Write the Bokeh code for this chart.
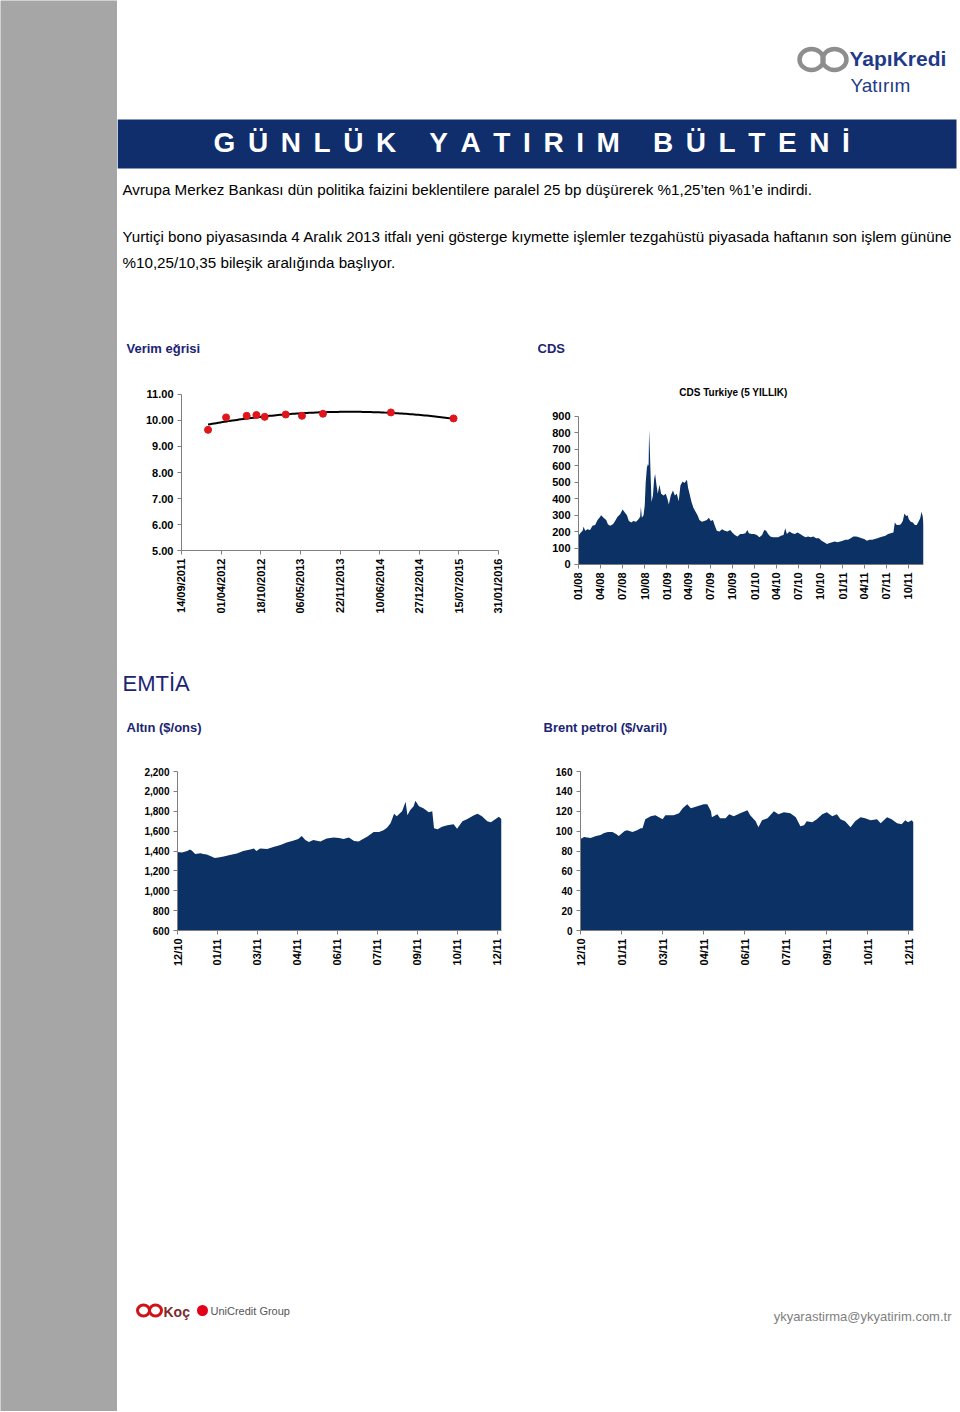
import math
import numpy as np
import pandas as pd
from bokeh.plotting import figure
from bokeh.layouts import row, column
from bokeh.models import (Range1d, FixedTicker, DatetimeTickFormatter,
                          NumeralTickFormatter, Label)
from bokeh.core.properties import value
from bokeh.embed import file_html
from bokeh.resources import INLINE

# ---------------- data ----------------
yield_dates = ["2012-01-26", "2012-04-26", "2012-08-08", "2012-09-26", "2012-11-07",
               "2013-02-21", "2013-05-14", "2013-08-28", "2014-08-06", "2015-06-18"]
yield_values = [9.64, 10.12, 10.18, 10.21, 10.14, 10.23, 10.18, 10.26, 10.31, 10.08]
yield_ticks = ["2011-09-14", "2012-04-01", "2012-10-18", "2013-05-06", "2013-11-22",
               "2014-06-10", "2014-12-27", "2015-07-15", "2016-01-31"]
yield_ylim = [5, 11]

cds_dates = [
    "2008-01-01", "2008-01-08", "2008-01-18", "2008-01-22", "2008-01-29", "2008-02-07",
    "2008-02-18", "2008-02-28", "2008-03-10", "2008-03-20", "2008-03-28", "2008-04-04",
    "2008-04-14", "2008-04-25", "2008-05-02", "2008-05-11", "2008-05-23", "2008-06-01",
    "2008-06-11", "2008-06-22", "2008-07-02", "2008-07-09", "2008-07-20", "2008-07-28",
    "2008-08-07", "2008-08-16", "2008-08-27", "2008-09-06", "2008-09-13", "2008-09-16",
    "2008-09-20", "2008-09-27", "2008-10-02", "2008-10-06", "2008-10-11", "2008-10-15",
    "2008-10-18", "2008-10-20", "2008-10-23", "2008-10-26", "2008-10-30", "2008-11-05",
    "2008-11-10", "2008-11-14", "2008-11-20", "2008-11-25", "2008-12-02", "2008-12-09",
    "2008-12-19", "2008-12-28", "2009-01-04", "2009-01-10", "2009-01-18", "2009-01-27",
    "2009-02-04", "2009-02-12", "2009-02-20", "2009-02-27", "2009-03-08", "2009-03-16",
    "2009-03-26", "2009-03-31", "2009-04-06", "2009-04-14", "2009-04-22", "2009-05-01",
    "2009-05-09", "2009-05-17", "2009-05-27", "2009-06-06", "2009-06-17", "2009-06-25",
    "2009-07-03", "2009-07-12", "2009-07-20", "2009-07-28", "2009-08-08", "2009-08-19",
    "2009-08-30", "2009-09-10", "2009-09-22", "2009-09-30", "2009-10-11", "2009-10-22",
    "2009-11-02", "2009-11-13", "2009-11-24", "2009-12-02", "2009-12-08", "2009-12-19",
    "2009-12-30", "2010-01-10", "2010-01-21", "2010-02-01", "2010-02-10", "2010-02-18",
    "2010-02-26", "2010-03-07", "2010-03-18", "2010-03-29", "2010-04-09", "2010-04-20",
    "2010-05-01", "2010-05-08", "2010-05-15", "2010-05-26", "2010-06-06", "2010-06-17",
    "2010-06-28", "2010-07-09", "2010-07-20", "2010-07-31", "2010-08-11", "2010-08-22",
    "2010-09-02", "2010-09-13", "2010-09-25", "2010-10-06", "2010-10-17", "2010-10-28",
    "2010-11-08", "2010-11-19", "2010-11-30", "2010-12-11", "2010-12-22", "2011-01-02",
    "2011-01-13", "2011-01-24", "2011-02-04", "2011-02-15", "2011-02-27", "2011-03-10",
    "2011-03-21", "2011-04-01", "2011-04-12", "2011-04-23", "2011-05-04", "2011-05-15",
    "2011-05-26", "2011-06-06", "2011-06-17", "2011-06-28", "2011-07-09", "2011-07-20",
    "2011-07-31", "2011-08-06", "2011-08-14", "2011-08-23", "2011-08-31", "2011-09-08",
    "2011-09-15", "2011-09-22", "2011-09-28", "2011-10-03", "2011-10-11", "2011-10-20",
    "2011-10-28", "2011-11-05", "2011-11-12", "2011-11-19", "2011-11-25", "2011-11-30",
    "2011-12-03"]
cds_values = [
    175, 190, 205, 230, 205, 215,
    210, 235, 240, 270, 285, 300,
    285, 270, 245, 235, 245, 265,
    290, 305, 335, 320, 300, 265,
    255, 265, 260, 275, 290, 350,
    285, 300, 360, 500, 590, 610,
    600, 820, 700, 560, 380, 420,
    520, 550, 480, 430, 485, 430,
    420, 430, 400, 365, 420, 450,
    420, 430, 385, 480, 505, 495,
    515, 465, 430, 380, 345, 320,
    300, 270, 260, 265, 270, 285,
    265, 270, 235, 205, 200, 215,
    205, 200, 210, 195, 180, 170,
    185, 185, 190, 210, 190, 185,
    185, 180, 165, 180, 210, 205,
    185, 170, 165, 165, 165, 175,
    180, 220, 185, 200, 190, 185,
    195, 185, 175, 165, 170, 165,
    170, 160, 160, 145, 135, 125,
    130, 135, 140, 135, 140, 145,
    150, 150, 160, 170, 170, 165,
    160, 155, 145, 150, 150, 155,
    160, 165, 170, 175, 185, 190,
    195, 255, 240, 240, 245, 265,
    310, 295, 300, 275, 260, 255,
    240, 240, 260, 280, 320, 290,
    245]
cds_ticks = ["2008-01-01", "2008-04-01", "2008-07-01", "2008-10-01", "2009-01-01",
             "2009-04-01", "2009-07-01", "2009-10-01", "2010-01-01", "2010-04-01",
             "2010-07-01", "2010-10-01", "2011-01-01", "2011-04-01", "2011-07-01",
             "2011-10-01"]
cds_ylim = [0, 900]

gold_dates = [
    "2010-12-08", "2010-12-13", "2010-12-19", "2010-12-22", "2010-12-24", "2010-12-28",
    "2011-01-03", "2011-01-06", "2011-01-10", "2011-01-14", "2011-01-19", "2011-01-23",
    "2011-01-29", "2011-02-05", "2011-02-13", "2011-02-20", "2011-02-28", "2011-03-04",
    "2011-03-07", "2011-03-11", "2011-03-19", "2011-03-26", "2011-04-03", "2011-04-10",
    "2011-04-18", "2011-04-23", "2011-04-27", "2011-05-01", "2011-05-05", "2011-05-10",
    "2011-05-18", "2011-05-25", "2011-06-02", "2011-06-08", "2011-06-13", "2011-06-19",
    "2011-06-25", "2011-06-30", "2011-07-10", "2011-07-17", "2011-07-23", "2011-07-28",
    "2011-08-01", "2011-08-05", "2011-08-09", "2011-08-12", "2011-08-18", "2011-08-22",
    "2011-08-24", "2011-08-27", "2011-08-31", "2011-09-02", "2011-09-06", "2011-09-11",
    "2011-09-17", "2011-09-21", "2011-09-23", "2011-09-27", "2011-10-02", "2011-10-08",
    "2011-10-15", "2011-10-19", "2011-10-25", "2011-10-30", "2011-11-07", "2011-11-11",
    "2011-11-16", "2011-11-22", "2011-11-26", "2011-12-01", "2011-12-05", "2011-12-08"]
gold_values = [
    1390, 1385, 1400, 1415, 1405, 1370,
    1378, 1370, 1365, 1350, 1330, 1335,
    1345, 1360, 1375, 1400, 1415, 1425,
    1400, 1425, 1420, 1440, 1460, 1485,
    1505, 1520, 1550, 1510, 1490, 1510,
    1495, 1525, 1535, 1530, 1520, 1535,
    1500, 1495, 1545, 1590, 1590, 1610,
    1635, 1680, 1775, 1750, 1800, 1895,
    1760, 1810, 1850, 1905, 1850, 1830,
    1790, 1800, 1630, 1620, 1645, 1660,
    1670, 1625, 1700, 1720, 1760, 1775,
    1750, 1700, 1690, 1720, 1745, 1720]

brent_dates = [
    "2010-12-08", "2010-12-12", "2010-12-19", "2010-12-25", "2010-12-30", "2011-01-03",
    "2011-01-07", "2011-01-12", "2011-01-16", "2011-01-19", "2011-01-25", "2011-01-28",
    "2011-02-03", "2011-02-08", "2011-02-12", "2011-02-14", "2011-02-17", "2011-02-23",
    "2011-02-28", "2011-03-08", "2011-03-11", "2011-03-20", "2011-03-26", "2011-03-30",
    "2011-04-04", "2011-04-08", "2011-04-15", "2011-04-22", "2011-04-26", "2011-04-30",
    "2011-05-01", "2011-05-07", "2011-05-10", "2011-05-16", "2011-05-20", "2011-05-25",
    "2011-06-01", "2011-06-09", "2011-06-12", "2011-06-18", "2011-06-21", "2011-06-25",
    "2011-07-01", "2011-07-08", "2011-07-13", "2011-07-19", "2011-07-26", "2011-08-01",
    "2011-08-06", "2011-08-10", "2011-08-13", "2011-08-19", "2011-08-24", "2011-08-30",
    "2011-09-04", "2011-09-10", "2011-09-15", "2011-09-19", "2011-09-24", "2011-09-30",
    "2011-10-05", "2011-10-11", "2011-10-16", "2011-10-22", "2011-10-29", "2011-11-02",
    "2011-11-09", "2011-11-14", "2011-11-20", "2011-11-25", "2011-11-29", "2011-12-02",
    "2011-12-06", "2011-12-08"]
brent_values = [
    92, 94, 93, 95, 96, 98,
    99, 99, 97, 95, 100, 101,
    99, 101, 103, 103, 112, 115,
    116, 112, 116, 116, 118, 123,
    127, 123, 125, 127, 127, 120,
    114, 117, 113, 113, 117, 115,
    118, 121, 116, 110, 104, 111,
    113, 120, 117, 119, 118, 114,
    105, 106, 110, 109, 112, 117,
    119, 115, 117, 112, 110, 104,
    110, 114, 113, 111, 112, 108,
    114, 112, 108, 107, 111, 109,
    111, 109]

commodity_ticks = ["2010-12-08", "2011-01-22", "2011-03-08", "2011-04-22", "2011-06-06",
                   "2011-07-21", "2011-09-04", "2011-10-19", "2011-12-03"]
gold_ylim = [600, 2200]
brent_ylim = [0, 160]

title_text = "GÜNLÜK YATIRIM BÜLTENİ"
para1 = "Avrupa Merkez Bankası dün politika faizini beklentilere paralel 25 bp düşürerek %1,25’ten %1’e indirdi."
para2a = "Yurtiçi bono piyasasında 4 Aralık 2013 itfalı yeni gösterge kıymette işlemler tezgahüstü piyasada haftanın son işlem gününe"
para2b = "%10,25/10,35 bileşik aralığında başlıyor."

# ---------------- styles ----------------
FONT = "Liberation Sans"
NAVY = "#0b3165"
BAR = "#0f2e6b"
HEAD = "#1b2473"
LOGO = "#1f3b87"
GRAY_STRIP = "#a6a6a6"
W = 959          # total page width used
RIGHT_W = W - 117
DAY_MS = 86400000.0


def ms(d):
    return pd.Timestamp(d).value / 1e6


def blank(w, h, x0, x1, y0, y1, bg="white"):
    p = figure(width=w, height=h, x_range=Range1d(x0, x1), y_range=Range1d(y1, y0),
               output_backend="svg", toolbar_location=None,
               x_axis_location=None, y_axis_location=None, min_border=0)
    p.grid.visible = False
    p.outline_line_color = None
    p.background_fill_color = bg
    p.border_fill_color = bg
    return p


def txt(p, x, y, s, size, color="black", bold=False, align="left", font=FONT):
    p.text(x=[x], y=[y], text=[s], text_font=value(font), text_font_size=f"{size}px",
           text_color=color, text_font_style="bold" if bold else "normal",
           text_align=align, text_baseline="middle")


def style(p, xsize, ysize, fmt):
    for ax in p.axis:
        ax.major_label_text_font = FONT
        ax.major_label_text_font_style = "bold"
        ax.major_label_text_color = "black"
        ax.axis_line_color = "#7f7f7f"
        ax.major_tick_line_color = "#7f7f7f"
        ax.major_tick_out = 4
        ax.major_tick_in = 0
        ax.minor_tick_line_color = None
        ax.major_label_standoff = 4
    p.xaxis.major_label_text_font_size = xsize
    p.yaxis.major_label_text_font_size = ysize
    p.xaxis.major_label_orientation = math.pi / 2
    p.xaxis.formatter = DatetimeTickFormatter(
        milliseconds=fmt, seconds=fmt, minsec=fmt, minutes=fmt, hourmin=fmt,
        hours=fmt, days=fmt, months=fmt, years=fmt)
    p.grid.visible = False
    p.outline_line_color = None
    p.background_fill_color = "white"
    p.border_fill_color = "white"


def padded(t0, t1, px_data, pad_left_px, pad_right_px):
    """x range (ms) whose data part t0..t1 spans px_data pixels, padded on both sides."""
    mpp = (ms(t1) - ms(t0)) / px_data
    return Range1d(ms(t0) - pad_left_px * mpp, ms(t1) + pad_right_px * mpp)


# ---------------- gray strip ----------------
strip = blank(117, 1411, 0, 117, 0, 1411, bg=GRAY_STRIP)

# ---------------- header (page y 0..372) ----------------
hdr = blank(RIGHT_W, 372, 117, W, 0, 372)
hdr.ellipse(x=[811, 834], y=[59, 59], width=[24, 24], height=[21, 21],
            fill_color=None, line_color="#8e8e8e", line_width=4.5)
txt(hdr, 849, 58, "YapıKredi", 21, LOGO, bold=True)
txt(hdr, 850, 85, "Yatırım", 19, LOGO)
hdr.quad(left=[117], right=[956], top=[119], bottom=[168], fill_color=BAR, line_color=None)
em = {"G": .778, "Ü": .722, "N": .722, "L": .611, "K": .722, "Y": .667, "A": .722,
      "T": .611, "I": .278, "R": .722, "M": .833, "B": .722, "E": .667, "İ": .278, " ": .278}
fs, sp = 28, 12.6
xs, chars = [], []
x = 213.0
for ch in title_text:
    if ch != " ":
        xs.append(x)
        chars.append(ch)
    x += em[ch] * fs + sp
hdr.text(x=xs, y=[142] * len(xs), text=chars, text_font=value(FONT), text_font_size=f"{fs}px",
         text_font_style="bold", text_color="white", text_align="left", text_baseline="middle")
txt(hdr, 122, 189, para1, 15.2)
txt(hdr, 122, 236, para2a, 15.2)
txt(hdr, 122, 262, para2b, 15.2)
txt(hdr, 126, 348, "Verim eğrisi", 13, HEAD, bold=True)
txt(hdr, 537, 348, "CDS", 13, HEAD, bold=True)

# ---------------- row 1 (page y 372..640); both frames span y 384..635 ----------------
# axes are pinned at data values so each chart keeps its own geometry inside the shared frame
yd = pd.to_datetime(yield_dates)
yc = figure(width=413, height=268, x_axis_type="datetime",
            x_range=padded(yield_ticks[0], yield_ticks[-1], 317, 45, 10),
            y_range=Range1d(1.7308, 11.3846), output_backend="svg", toolbar_location=None,
            min_border_left=19, min_border_right=22, min_border_top=12, min_border_bottom=5)
days = (yd - pd.Timestamp("2011-09-14")).days.values.astype(float)
coef = np.polyfit(days, np.array(yield_values), 2)
tdays = np.linspace(days.min(), days.max(), 120)
tx = pd.Timestamp("2011-09-14") + pd.to_timedelta(tdays, unit="D")
yc.line(x=tx, y=np.polyval(coef, tdays), line_color="black", line_width=2)
yc.scatter(x=yd, y=yield_values, size=7, fill_color="#e0161b", line_color="#e0161b")
style(yc, "11px", "11px", "%d/%m/%Y")
yc.xaxis.ticker = FixedTicker(ticks=[ms(t) for t in yield_ticks])
yc.xaxis.fixed_location = yield_ylim[0]
yc.xaxis.bounds = (ms(yield_ticks[0]), ms(yield_ticks[-1]))
yc.yaxis.ticker = FixedTicker(ticks=list(range(yield_ylim[0], yield_ylim[1] + 1)))
yc.yaxis.fixed_location = ms(yield_ticks[0])
yc.yaxis.bounds = (yield_ylim[0], yield_ylim[1])
yc.yaxis.formatter = NumeralTickFormatter(format="0.00")

cd = pd.to_datetime(cds_dates)
cds = figure(width=429, height=268, x_axis_type="datetime",
             x_range=padded(cds_dates[0], cds_dates[-1], 345, 38, 0),
             y_range=Range1d(-431.8, 1094.6), output_backend="svg", toolbar_location=None,
             min_border_left=10, min_border_right=36, min_border_top=12, min_border_bottom=5)
cds.varea(x=cd, y1=0, y2=cds_values, fill_color=NAVY)
style(cds, "11px", "11px", "%m/%y")
cds.xaxis.ticker = FixedTicker(ticks=[ms(t) for t in cds_ticks])
cds.xaxis.fixed_location = cds_ylim[0]
cds.xaxis.bounds = (ms(cds_dates[0]), ms(cds_dates[-1]))
cds.yaxis.ticker = FixedTicker(ticks=list(range(0, 901, 100)))
cds.yaxis.fixed_location = ms(cds_dates[0])
cds.yaxis.bounds = (cds_ylim[0], cds_ylim[1])
cds.add_layout(Label(x=ms("2009-10-05"), y=1046, text="CDS Turkiye (5 YILLIK)",
                     text_align="center", text_baseline="middle", text_font=FONT,
                     text_font_size="10px", text_font_style="bold", text_color="black"))

# ---------------- middle labels (page y 640..755) ----------------
mid = blank(RIGHT_W, 115, 117, W, 640, 755)
txt(mid, 122, 683, "EMTİA", 22, HEAD)
txt(mid, 126, 727, "Altın ($/ons)", 13, HEAD, bold=True)
txt(mid, 543, 727, "Brent petrol ($/varil)", 13, HEAD, bold=True)

# ---------------- row 2 (page y 755..985) ----------------
gd = pd.to_datetime(gold_dates)
gold = figure(width=413, height=230, x_axis_type="datetime",
              x_range=Range1d(ms(gold_dates[0]), ms(gold_dates[-1])),
              y_range=Range1d(*gold_ylim), output_backend="svg", toolbar_location=None,
              min_border_left=60, min_border_right=29, min_border_top=16, min_border_bottom=55)
gold.varea(x=gd, y1=gold_ylim[0], y2=gold_values, fill_color=NAVY)
style(gold, "11px", "10px", "%m/%y")
gold.xaxis.ticker = FixedTicker(ticks=[ms(t) for t in commodity_ticks])
gold.yaxis.ticker = FixedTicker(ticks=list(range(600, 2201, 200)))
gold.yaxis.formatter = NumeralTickFormatter(format="0,0")

bd = pd.to_datetime(brent_dates)
brent = figure(width=429, height=230, x_axis_type="datetime",
               x_range=Range1d(ms(brent_dates[0]), ms(brent_dates[-1])),
               y_range=Range1d(*brent_ylim), output_backend="svg", toolbar_location=None,
               min_border_left=50, min_border_right=46, min_border_top=16, min_border_bottom=55)
brent.varea(x=bd, y1=0, y2=brent_values, fill_color=NAVY)
style(brent, "11px", "10px", "%m/%y")
brent.xaxis.ticker = FixedTicker(ticks=[ms(t) for t in commodity_ticks])
brent.yaxis.ticker = FixedTicker(ticks=list(range(0, 161, 20)))

# ---------------- footer (page y 985..1411) ----------------
foot = blank(RIGHT_W, 426, 117, W, 985, 1411)
foot.ellipse(x=[143, 155], y=[1310, 1310], width=[12, 12], height=[11, 11],
             fill_color=None, line_color="#d0121b", line_width=3)
txt(foot, 163, 1311, "Koç", 14, "#7b2b2b", bold=True)
foot.circle(x=[202], y=[1310], radius=5.5, fill_color="#e2001a", line_color=None)
txt(foot, 210, 1310, "UniCredit Group", 11, "#555555")
txt(foot, 951, 1316, "ykyarastirma@ykyatirim.com.tr", 13, "#808080", align="right")

layout = row(strip, column(hdr, row(yc, cds), mid, row(gold, brent), foot))

open("out.html", "w").write(file_html(layout, INLINE))
